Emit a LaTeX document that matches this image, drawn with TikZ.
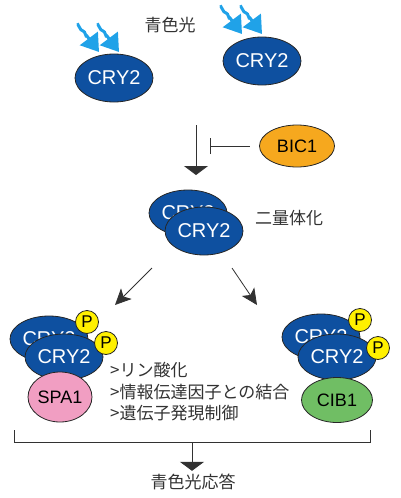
\documentclass[tikz,border=0pt]{standalone}
\usepackage{fontspec}
\setmainfont{Liberation Sans}
\newfontfamily\jpfont{Noto Sans CJK JP}
\usetikzlibrary{shapes.geometric,arrows.meta}
\definecolor{cryblue}{RGB}{14,80,160}
\definecolor{lightblue}{RGB}{32,162,232}
\definecolor{bicorange}{RGB}{246,168,30}
\definecolor{spapink}{RGB}{241,158,194}
\definecolor{cibgreen}{RGB}{112,190,100}
\definecolor{pyellow}{RGB}{255,240,0}
\definecolor{txtgray}{RGB}{50,50,50}

\begin{document}
\begin{tikzpicture}[x=1pt,y=-1pt,
  cry/.style={ellipse,draw=black!85,line width=0.8pt,fill=cryblue,text=white,minimum width=78pt,minimum height=48pt,inner sep=0pt,font=\fontsize{20}{24}\selectfont},
  prot/.style={ellipse,draw=black!85,line width=0.8pt,inner sep=0pt,font=\fontsize{18}{22}\selectfont},
  phos/.style={circle,draw=black!85,line width=0.8pt,fill=pyellow,minimum size=23pt,inner sep=0pt,font=\fontsize{17}{20}\selectfont},
  jp/.style={text=txtgray,inner sep=0pt,font=\jpfont\fontsize{17}{20}\selectfont},
  wave/.style={lightblue,line width=3pt,-{Triangle[width=22pt,length=17pt]}},
  arr/.style={txtgray,line width=0.8pt,-{Triangle[width=24pt,length=9pt]}},
  diag/.style={txtgray,line width=0.8pt,-{Stealth[width=15pt,length=16pt,inset=4pt]}}]
\useasboundingbox (0,0) rectangle (400,498);

\foreach \x/\y in {77/25,97/25,220/7,240/7}
  \draw[wave] (\x,\y) to[out=70,in=180] ++(6,6) to[out=0,in=235] ++(4,5) -- ++(12,16);

\node[jp] (light) at (170,25) {青色光};
\node[cry] (cryA) at (114,78) {CRY2};
\node[cry] (cryB) at (262,61) {CRY2};

\coordinate (v0) at (196,125);
\coordinate (v1) at (196,175);
\draw[arr] (v0) -- (v1);

\node[prot,fill=bicorange,minimum width=75pt,minimum height=42pt] (bic) at (297,146) {BIC1};
\coordinate (inh) at (210,146);
\draw[txtgray,line width=0.8pt,shorten <=9.5pt,-{Bar[width=16pt]}] (bic.west) -- (inh);

\node[cry,minimum height=46pt] (dimA) at (188,213) {CRY2};
\node[cry] (dimB) at (204,231) {CRY2};
\node[jp] (dimer) at (289,218) {二量体化};

\coordinate (d1s) at (152,268);
\coordinate (d1e) at (115,305);
\coordinate (d2s) at (232,268);
\coordinate (d2e) at (257,305);
\draw[diag] (d1s) -- (d1e);
\draw[diag] (d2s) -- (d2e);

\node[cry,minimum height=46pt] (spaA) at (49,339) {CRY2};
\node[phos] (pA1) at (87,322) {P};
\node[cry,minimum height=46pt] (spaB) at (64,357) {CRY2};
\node[phos] (pA2) at (106,343) {P};
\node[prot,fill=spapink,minimum width=64pt,minimum height=50pt] (spa) at (60,397) {SPA1};

\node[cry,minimum height=46pt] (cibA) at (321,337) {CRY2};
\node[phos] (pB1) at (360,320) {P};
\node[cry,minimum height=46pt] (cibB) at (337,357) {CRY2};
\node[phos] (pB2) at (378,348) {P};
\node[prot,fill=cibgreen,minimum width=71pt,minimum height=45pt] (cib) at (337,400) {CIB1};

\node[jp,anchor=west] (l1) at (110,370) {>リン酸化};
\node[jp,anchor=west] (l2) at (110,392) {>情報伝達因子との結合};
\node[jp,anchor=west] (l3) at (110,413) {>遺伝子発現制御};

\coordinate (brL) at (14,430);
\coordinate (brR) at (370,430);
\coordinate (brM) at (192,442);
\draw[txtgray,line width=0.8pt] (brL) |- (brR |- brM) -- (brR);
\node[jp] (resp) at (193,482) {青色光応答};
\draw[arr,shorten >=3pt] (brM) -- (brM |- resp.north);

\end{tikzpicture}
\end{document}
